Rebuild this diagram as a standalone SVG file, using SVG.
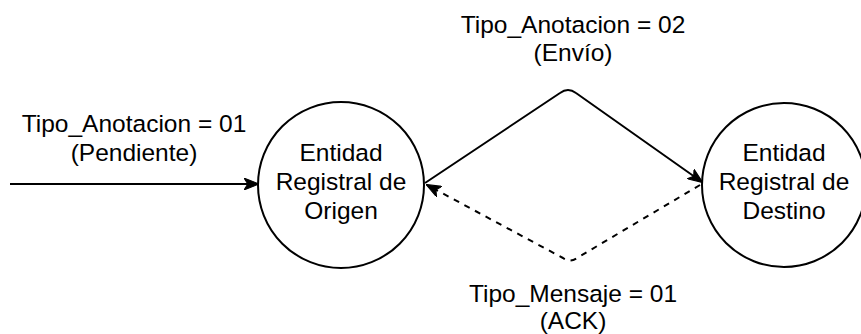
<svg xmlns="http://www.w3.org/2000/svg" width="861" height="334" viewBox="0 0 861 334">
<style>
  text { font-family: "Liberation Sans", Arial, sans-serif; font-size: 24.5px; fill: #000; text-anchor: middle; }
  .node { fill: #fff; stroke: #000; stroke-width: 2; }
  .edge { fill: none; stroke: #000; stroke-width: 2; stroke-linejoin: round; }
  .dash { stroke-dasharray: 6 6; }
</style>
<defs>
  <marker id="arrow" viewBox="0 0 14 11" refX="13" refY="5.5" markerWidth="15" markerHeight="12" markerUnits="userSpaceOnUse" orient="auto">
    <path d="M0,0 L14,5.5 L0,11 L3.5,5.5 Z" fill="#000" stroke="#000" stroke-width="1"/>
  </marker>
</defs>
<rect width="861" height="334" fill="#fff"/>
<g id="connectors">
  <path class="edge" d="M10,184 L258,184" marker-end="url(#arrow)"/>
  <path class="edge" d="M425,183 L560,93 Q568,87 576,93 L702,182" marker-end="url(#arrow)"/>
  <path class="edge dash" d="M700,185 L577,258 Q570,263 563,258 L427,185" marker-end="url(#arrow)"/>
</g>
<g id="label-entrada">
  <text x="134" y="132">Tipo_Anotacion = 01</text>
  <text x="134" y="161">(Pendiente)</text>
</g>
<g id="label-envio">
  <text x="573" y="33">Tipo_Anotacion = 02</text>
  <text x="573" y="61">(Envío)</text>
</g>
<g id="label-ack">
  <text x="573" y="302">Tipo_Mensaje = 01</text>
  <text x="573" y="329">(ACK)</text>
</g>
<g id="origen">
  <circle class="node" cx="341" cy="185" r="83"/>
  <text x="341" y="161">Entidad</text>
  <text x="341" y="190">Registral de</text>
  <text x="341" y="219">Origen</text>
</g>
<g id="destino">
  <circle class="node" cx="784" cy="185" r="82"/>
  <text x="784" y="161">Entidad</text>
  <text x="784" y="190">Registral de</text>
  <text x="784" y="219">Destino</text>
</g>
</svg>
